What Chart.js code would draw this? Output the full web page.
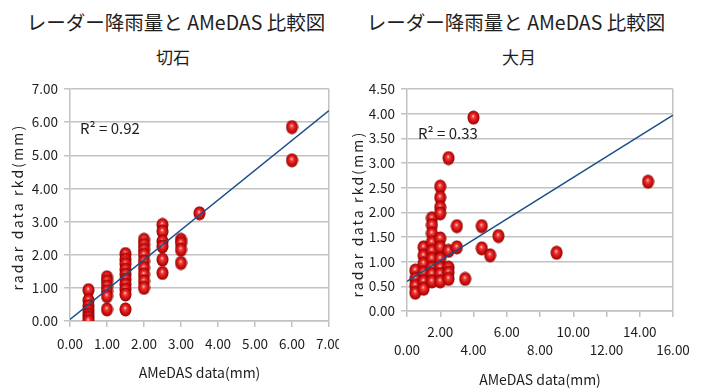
<!DOCTYPE html>
<html>
<head>
<meta charset="utf-8">
<script src="https://cdn.jsdelivr.net/npm/chart.js@4/dist/chart.umd.min.js"></script>
<style>
  html, body { margin: 0; padding: 0; background: #fff; }
  #wrap { position: relative; width: 704px; height: 388px; overflow: hidden; font-family: "Noto Sans CJK JP", sans-serif; color: #1e1e1e; }
  .title { position: absolute; top: 8px; width: 360px; text-align: center; font-size: 19.5px; line-height: 28px; white-space: nowrap; }
  .sub { position: absolute; top: 45px; width: 100px; text-align: center; font-size: 17px; line-height: 24px; white-space: nowrap; }
  .pane { position: absolute; top: 70px; height: 318px; overflow: hidden; }
</style>
</head>
<body>
<div id="wrap">
  <div class="title" style="left:-4px">レーダー降雨量と AMeDAS 比較図</div>
  <div class="title" style="left:336px">レーダー降雨量と AMeDAS 比較図</div>
  <div class="sub" style="left:123px">切石</div>
  <div class="sub" style="left:469px">大月</div>
  <div class="pane" style="left:0; width:339px"><canvas id="c1" width="352" height="318"></canvas></div>
  <div class="pane" style="left:352px; width:352px"><canvas id="c2" width="352" height="318"></canvas></div>
</div>
<script>
// 切石: AMeDAS (x) against radar rkd (y)
const kiriishiX = [0.5,0.5,0.5,0.5,0.5,0.5,0.5,
                   1.0,1.0,1.0,1.0,1.0,1.0,
                   1.5,1.5,1.5,1.5,1.5,1.5,1.5,1.5,1.5,1.5,
                   2.0,2.0,2.0,2.0,2.0,2.0,2.0,2.0,2.0,
                   2.5,2.5,2.5,2.5,2.5,2.5,
                   3.0,3.0,3.0,3.0,
                   3.5,
                   6.0,6.0];
const kiriishiY = [0.93,0.62,0.45,0.32,0.20,0.10,0.00,
                   1.32,1.20,1.05,0.90,0.75,0.35,
                   2.02,1.85,1.72,1.55,1.40,1.25,1.10,0.95,0.80,0.35,
                   2.45,2.30,2.15,2.00,1.80,1.60,1.40,1.20,1.00,
                   2.90,2.70,2.40,2.25,1.85,1.45,
                   2.45,2.35,2.15,1.75,
                   3.25,
                   5.85,4.85];
const kiriishiTrendX = [0, 7];
const kiriishiTrendY = [0.05, 6.35];

// 大月: AMeDAS (x) against radar rkd (y)
const otsukiX = [0.5,0.5,0.5,0.5,
                 1.0,1.0,1.0,1.0,1.0,1.0,
                 1.5,1.5,1.5,1.5,1.5,1.5,1.5,1.5,1.5,
                 2.0,2.0,2.0,2.0,2.0,2.0,2.0,2.0,2.0,2.0,
                 2.5,2.5,2.5,2.5,2.5,
                 3.0,3.0,
                 3.5,
                 4.0,
                 4.5,4.5,
                 5.0,
                 5.5,
                 9.0,
                 14.5];
const otsukiY = [0.82,0.65,0.51,0.37,
                 1.29,1.12,0.96,0.78,0.60,0.45,
                 1.88,1.74,1.57,1.39,1.22,1.06,0.88,0.75,0.60,
                 2.52,2.30,2.10,1.98,1.47,1.29,1.06,0.88,0.75,0.60,
                 3.10,1.22,0.88,0.78,0.65,
                 1.72,1.29,
                 0.65,
                 3.92,
                 1.72,1.27,
                 1.13,
                 1.52,
                 1.18,
                 2.62];
const otsukiTrendX = [0, 16];
const otsukiTrendY = [0.60, 3.97];

const r2Labels = ['R\u00B2 = 0.92', 'R\u00B2 = 0.33'];
const yTitle = 'radar data rkd(mm)';
const xTitle = 'AMeDAS data(mm)';

const zip = (xs, ys) => xs.map((x, i) => ({ x: x, y: ys[i] }));

// shaded red ball used as the marker
function makeBall() {
  const w = 13, h = 15;
  const c = document.createElement('canvas');
  c.width = w; c.height = h;
  const g = c.getContext('2d');
  g.save();
  g.translate(w / 2, h / 2);
  g.scale((w - 1) / (h - 1), 1);
  const r = (h - 1) / 2;
  const grad = g.createRadialGradient(-0.5, -1.5, 0.3, 0, 0, r);
  grad.addColorStop(0, '#ffe0e0');
  grad.addColorStop(0.18, '#f24a4a');
  grad.addColorStop(0.55, '#dc1616');
  grad.addColorStop(0.85, '#b50808');
  grad.addColorStop(1, '#7d0000');
  g.fillStyle = grad;
  g.beginPath();
  g.arc(0, 0, r, 0, Math.PI * 2);
  g.fill();
  g.restore();
  return c;
}
const ball = makeBall();

const FONT = '"Noto Sans CJK JP", sans-serif';
const TEXT = '#1e1e1e';
const GRID = '#c2c2c2';

// R² note and the spaced-out vertical axis title
const notesPlugin = {
  id: 'notes',
  afterDatasetsDraw(chart, args, opts) {
    const { ctx, chartArea } = chart;
    ctx.save();
    ctx.font = '15px ' + FONT;
    ctx.fillStyle = TEXT;
    ctx.textBaseline = 'middle';
    ctx.fillText(opts.text, chartArea.left + opts.dx, chartArea.top + opts.dy);
    ctx.restore();

    ctx.save();
    ctx.font = '14px ' + FONT;
    ctx.fillStyle = TEXT;
    ctx.letterSpacing = '2.2px';
    ctx.textAlign = 'center';
    ctx.textBaseline = 'middle';
    ctx.translate(opts.yTitleX, (chartArea.top + chartArea.bottom) / 2 + opts.yTitleDy);
    ctx.rotate(-Math.PI / 2);
    ctx.fillText(yTitle, 0, 0);
    ctx.restore();
  }
};

function makeChart(id, cfg) {
  const lastX = Math.round(cfg.xMax / cfg.xStep);
  return new Chart(document.getElementById(id), {
    type: 'scatter',
    data: {
      datasets: [
        {
          type: 'line',
          data: zip(cfg.trendX, cfg.trendY),
          borderColor: '#1b4f8a',
          borderWidth: 1.5,
          pointRadius: 0,
          fill: false,
          order: 0
        },
        {
          data: zip(cfg.xs, cfg.ys),
          pointStyle: ball,
          pointRadius: 7,
          order: 1
        }
      ]
    },
    plugins: [notesPlugin],
    options: {
      responsive: false,
      animation: false,
      layout: { padding: { top: 19, right: cfg.padRight, left: 0, bottom: 0 } },
      plugins: {
        legend: { display: false },
        tooltip: { enabled: false },
        notes: { text: cfg.r2, dx: cfg.r2dx, dy: cfg.r2dy, yTitleX: cfg.yTitleX, yTitleDy: cfg.yTitleDy }
      },
      scales: {
        x: {
          type: 'linear',
          min: 0, max: cfg.xMax,
          afterFit: s => { s.height = cfg.xHeight; },
          border: { color: GRID, width: 1.5 },
          grid: {
            color: c => (c.index === lastX ? GRID : 'rgba(0,0,0,0)'),
            tickColor: GRID,
            lineWidth: 1.5,
            tickLength: cfg.xTickLen,
            drawOnChartArea: true
          },
          ticks: {
            stepSize: cfg.xStep,
            autoSkip: false,
            maxRotation: 0,
            padding: cfg.xTickPad,
            color: TEXT,
            font: { family: FONT, size: 13.5, lineHeight: cfg.xLineHeight },
            callback: cfg.xLabel
          },
          title: {
            display: true,
            text: xTitle,
            color: TEXT,
            font: { family: FONT, size: 14 },
            padding: { top: 0, bottom: cfg.xTitlePad }
          }
        },
        y: {
          min: 0, max: cfg.yMax,
          afterFit: s => { s.width = cfg.yWidth; },
          border: { color: GRID, width: 1.5 },
          grid: { color: GRID, lineWidth: 1.5, tickLength: 6, tickColor: GRID },
          ticks: {
            stepSize: cfg.yStep,
            padding: 6,
            color: TEXT,
            font: { family: FONT, size: 13.5 },
            callback: v => Number(v).toFixed(2)
          },
          title: { display: false }
        }
      }
    }
  });
}

makeChart('c1', {
  xs: kiriishiX, ys: kiriishiY, trendX: kiriishiTrendX, trendY: kiriishiTrendY,
  xMax: 7, xStep: 1, yMax: 7, yStep: 1,
  padRight: 23, yWidth: 70, xHeight: 67,
  xTickLen: 6, xTickPad: 9, xLineHeight: 1.2, xTitlePad: 7,
  xLabel: v => Number(v).toFixed(2),
  r2: r2Labels[0], r2dx: 10, r2dy: 39, yTitleX: 18, yTitleDy: 2
});

makeChart('c2', {
  xs: otsukiX, ys: otsukiY, trendX: otsukiTrendX, trendY: otsukiTrendY,
  xMax: 16, xStep: 2, yMax: 4.5, yStep: 0.5,
  padRight: 31, yWidth: 55, xHeight: 77,
  xTickLen: 6, xTickPad: 5, xLineHeight: 1.4, xTitlePad: 0,
  // alternate rows so the wide labels do not collide
  xLabel: v => {
    const t = Number(v).toFixed(2);
    return (Math.round(v / 2) % 2 === 1) ? [t, ''] : ['', t];
  },
  r2: r2Labels[1], r2dx: 11, r2dy: 44, yTitleX: 6, yTitleDy: 14
});
</script>
</body>
</html>
